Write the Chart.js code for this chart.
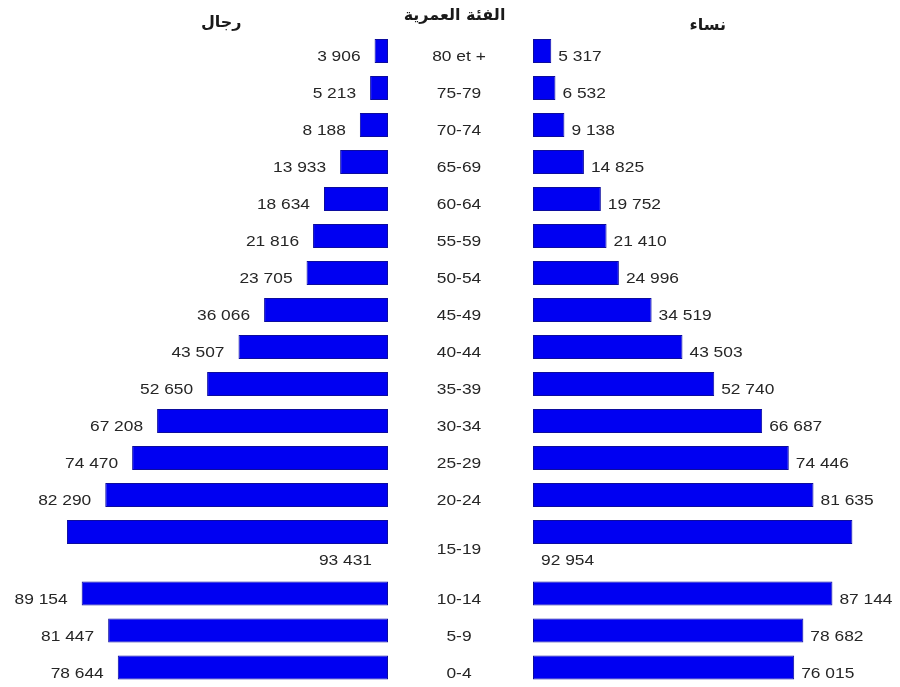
<!DOCTYPE html>
<html lang="ar">
<head>
<meta charset="utf-8">
<title>الفئة العمرية</title>
<script src="https://cdn.jsdelivr.net/npm/chart.js@4.4.1/dist/chart.umd.min.js"></script>
<style>
  html, body { margin: 0; padding: 0; background: #ffffff; }
  #wrap { position: relative; width: 900px; height: 687px; overflow: hidden; background: #ffffff; }
  #upper { position: absolute; left: 0; top: 0; }
  #lower { position: absolute; left: 0; top: 575px; }
</style>
</head>
<body>
<div id="wrap">
  <canvas id="upper" width="900" height="575"></canvas>
  <canvas id="lower" width="900" height="112"></canvas>
</div>
<script>
// Age groups, oldest first
const ageGroups = ['80 et +', '75-79', '70-74', '65-69', '60-64', '55-59', '50-54', '45-49',
                   '40-44', '35-39', '30-34', '25-29', '20-24', '15-19', '10-14', '5-9', '0-4'];
// Population by age group
const men   = [3906, 5213, 8188, 13933, 18634, 21816, 23705, 36066, 43507, 52650,
               67208, 74470, 82290, 93431, 89154, 81447, 78644];
const women = [5317, 6532, 9138, 14825, 19752, 21410, 24996, 34519, 43503, 52740,
               66687, 74446, 81635, 92954, 87144, 78682, 76015];
const titleMen = 'رجال';
const titleAge = 'الفئة العمرية';
const titleWomen = 'نساء';
const valueMax = 100000;

// Page geometry (pixels)
const PLOT_LEFT = 44.4, PLOT_RIGHT = 876.6;   // where valueMax falls on each side
const MEN_ZERO = 388, WOMEN_ZERO = 533;       // inner edges of the two halves
const ROW = 37;                               // height of one age row
// the 15-19 row carries its numbers underneath, so the rows below it start a new block
const splitAt = ageGroups.indexOf('15-19') + 1;

const BAR_FILL = '#0000f2';
const BAR_EDGE = '#0c0c9e';
const TEXT = '#262626';
const LABEL_FONT = '15.5px "Liberation Sans", Arial, sans-serif';
const SX = 1.12;                              // labels are set slightly wide
const GAP_L = 14, GAP_R = 7;

// each half's axis runs across the whole plot, with zero at that half's inner edge
const menMin = -valueMax * (PLOT_RIGHT - MEN_ZERO) / (MEN_ZERO - PLOT_LEFT);
const womenMin = -valueMax * (WOMEN_ZERO - PLOT_LEFT) / (PLOT_RIGHT - WOMEN_ZERO);

function fmt(v) {
  return String(v).replace(/\B(?=(\d{3})+(?!\d))/g, ' ');
}

function wideText(ctx, text, x, y, align) {
  const w = ctx.measureText(text).width * SX;
  const left = align === 'right' ? x - w : align === 'center' ? x - w / 2 : x;
  ctx.save();
  ctx.translate(left, y);
  ctx.scale(SX, 1);
  ctx.direction = 'ltr';
  ctx.textAlign = 'left';
  ctx.fillText(text, 0, 0);
  ctx.restore();
}

const pyramidLabels = {
  id: 'pyramidLabels',
  afterDatasetsDraw(chart) {
    const ctx = chart.ctx;
    const mMeta = chart.getDatasetMeta(0);
    const fMeta = chart.getDatasetMeta(1);
    const mid = (chart.scales.xM.getPixelForValue(0) + chart.scales.xF.getPixelForValue(0)) / 2 - 1.5;
    ctx.save();
    ctx.font = LABEL_FONT;
    ctx.fillStyle = TEXT;
    ctx.direction = 'ltr';
    ctx.textBaseline = 'alphabetic';
    chart.data.labels.forEach((age, i) => {
      const m = mMeta.data[i], f = fMeta.data[i];
      const mText = fmt(chart.data.datasets[0].data[i]);
      const fText = fmt(chart.data.datasets[1].data[i]);
      const mw = ctx.measureText(mText).width * SX;
      const fw = ctx.measureText(fText).width * SX;
      const fits = (m.x - GAP_L - mw >= 4) && (f.x + GAP_R + fw <= chart.width);
      const y = m.y;
      if (fits) {
        wideText(ctx, mText, m.x - GAP_L, y + 10, 'right');
        wideText(ctx, fText, f.x + GAP_R, y + 10, 'left');
        wideText(ctx, age, mid, y + 10, 'center');
      } else {
        wideText(ctx, mText, m.base - 16, y + 33, 'right');
        wideText(ctx, fText, f.base + 8, y + 33, 'left');
        wideText(ctx, age, mid, y + 22, 'center');
      }
    });
    ctx.restore();
  }
};

const pyramidHeaders = {
  id: 'pyramidHeaders',
  afterDraw(chart) {
    const ctx = chart.ctx;
    const mZero = chart.scales.xM.getPixelForValue(0);
    const fZero = chart.scales.xF.getPixelForValue(0);
    const mEnd = chart.scales.xM.getPixelForValue(valueMax);
    const fEnd = chart.scales.xF.getPixelForValue(valueMax);
    ctx.save();
    ctx.font = 'bold 16px "DejaVu Sans", sans-serif';
    ctx.fillStyle = '#1a1a1a';
    ctx.direction = 'rtl';
    ctx.textAlign = 'center';
    ctx.textBaseline = 'alphabetic';
    ctx.fillText(titleMen, (mZero + mEnd) / 2 + 5, 27);
    ctx.fillText(titleAge, (mZero + fZero) / 2 - 6, 20);
    ctx.fillText(titleWomen, (fZero + fEnd) / 2 + 3, 30);
    ctx.restore();
  }
};

function makeBlock(canvasId, from, to, padTop, padBottom, withHeaders) {
  const barStyle = {
    backgroundColor: BAR_FILL,
    borderColor: BAR_EDGE,
    borderWidth: 1,
    borderSkipped: false,
    grouped: false,
    barPercentage: 24 / ROW,
    categoryPercentage: 1
  };
  return new Chart(document.getElementById(canvasId), {
    type: 'bar',
    data: {
      labels: ageGroups.slice(from, to),
      datasets: [
        Object.assign({ label: titleMen, data: men.slice(from, to), xAxisID: 'xM' }, barStyle),
        Object.assign({ label: titleWomen, data: women.slice(from, to), xAxisID: 'xF' }, barStyle)
      ]
    },
    options: {
      indexAxis: 'y',
      responsive: false,
      animation: false,
      devicePixelRatio: 1,
      layout: {
        padding: { left: PLOT_LEFT, right: 900 - PLOT_RIGHT, top: padTop, bottom: padBottom }
      },
      scales: {
        y: { type: 'category', display: false, offset: true },
        xM: { type: 'linear', display: false, reverse: true, min: menMin, max: valueMax },
        xF: { type: 'linear', display: false, min: womenMin, max: valueMax }
      },
      plugins: { legend: { display: false }, tooltip: { enabled: false }, title: { display: false } }
    },
    plugins: withHeaders ? [pyramidLabels, pyramidHeaders] : [pyramidLabels]
  });
}

// upper block: 80 et + .. 15-19, lower block: 10-14 .. 0-4
makeBlock('upper', 0, splitAt, 32.5, 575 - 32.5 - splitAt * ROW, true);
makeBlock('lower', splitAt, ageGroups.length, 0, 112 - (ageGroups.length - splitAt) * ROW, false);
</script>
</body>
</html>
